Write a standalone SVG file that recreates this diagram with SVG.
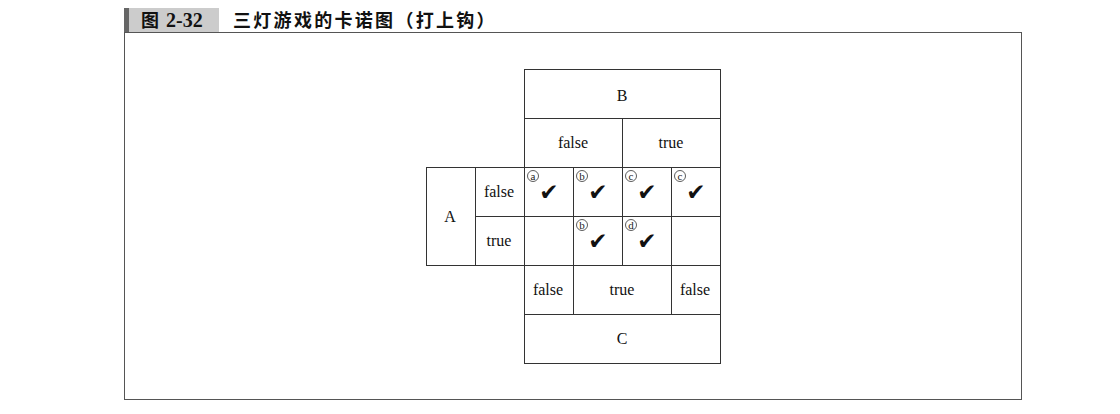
<svg xmlns="http://www.w3.org/2000/svg" width="1120" height="414" viewBox="0 0 1120 414">
<style>
.c{fill:#fff;stroke:#333;stroke-width:1}
.t{font-family:"Liberation Serif",serif;font-size:16px;fill:#111;text-anchor:middle}
.k{font-family:"DejaVu Sans",sans-serif;font-size:23px;fill:#111;text-anchor:middle}
.r{fill:none;stroke:#333;stroke-width:0.8}
.o{font-family:"Liberation Serif",serif;font-size:11px;fill:#222;text-anchor:middle}
.h{font-family:"Noto Sans CJK SC",sans-serif;font-size:18px;font-weight:bold;fill:#111}
</style>
<defs>
<circle id="ring" class="r" r="5.5"/>
</defs>
<rect width="1120" height="414" fill="#fff"/>
<g id="title">
<rect x="124" y="8" width="5" height="24" fill="#666"/>
<rect x="129" y="8" width="90" height="24" fill="#ccc"/>
<text class="h" x="141" y="27">图 <tspan style="font-family:'Liberation Serif',serif;font-size:20px" dx="3">2-32</tspan></text>
<text class="h" x="233" y="27" letter-spacing="2.3">三灯游戏的卡诺图（打上钩）</text>
</g>
<rect id="frame" x="124.5" y="32.5" width="897" height="367" fill="none" stroke="#555" stroke-width="1"/>
<g id="B">
<rect class="c" x="524.5" y="69.5" width="196" height="49"/>
<text class="t" x="622" y="101">B</text>
<rect class="c" x="524.5" y="118.5" width="98" height="49"/>
<text class="t" x="573" y="148">false</text>
<rect class="c" x="622.5" y="118.5" width="98" height="49"/>
<text class="t" x="671" y="148">true</text>
</g>
<g id="A">
<rect class="c" x="426.5" y="167.5" width="49" height="98"/>
<text class="t" x="450" y="222">A</text>
<rect class="c" x="475.5" y="167.5" width="49" height="49"/>
<text class="t" x="499" y="197">false</text>
<rect class="c" x="475.5" y="216.5" width="49" height="49"/>
<text class="t" x="499" y="246">true</text>
</g>
<g id="C">
<rect class="c" x="524.5" y="265.5" width="49" height="49"/>
<text class="t" x="548" y="295">false</text>
<rect class="c" x="573.5" y="265.5" width="98" height="49"/>
<text class="t" x="622" y="295">true</text>
<rect class="c" x="671.5" y="265.5" width="49" height="49"/>
<text class="t" x="695" y="295">false</text>
<rect class="c" x="524.5" y="314.5" width="196" height="49"/>
<text class="t" x="622" y="344">C</text>
</g>
<g id="grid">
<rect class="c" x="524.5" y="167.5" width="49" height="49"/>
<rect class="c" x="573.5" y="167.5" width="49" height="49"/>
<rect class="c" x="622.5" y="167.5" width="49" height="49"/>
<rect class="c" x="671.5" y="167.5" width="49" height="49"/>
<rect class="c" x="524.5" y="216.5" width="49" height="49"/>
<rect class="c" x="573.5" y="216.5" width="49" height="49"/>
<rect class="c" x="622.5" y="216.5" width="49" height="49"/>
<rect class="c" x="671.5" y="216.5" width="49" height="49"/>
<use href="#ring" x="533" y="176"/><text class="o" x="533" y="179.5">a</text>
<text class="k" x="549" y="200">✔</text>
<use href="#ring" x="582" y="176"/><text class="o" x="582" y="179.5">b</text>
<text class="k" x="598" y="200">✔</text>
<use href="#ring" x="631" y="176"/><text class="o" x="631" y="179.5">c</text>
<text class="k" x="647" y="200">✔</text>
<use href="#ring" x="680" y="176"/><text class="o" x="680" y="179.5">c</text>
<text class="k" x="696" y="200">✔</text>
<use href="#ring" x="582" y="225"/><text class="o" x="582" y="228.5">b</text>
<text class="k" x="598" y="249">✔</text>
<use href="#ring" x="631" y="225"/><text class="o" x="631" y="228.5">d</text>
<text class="k" x="647" y="249">✔</text>
</g>
</svg>
